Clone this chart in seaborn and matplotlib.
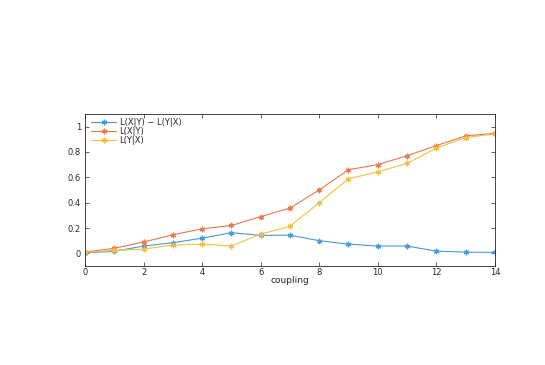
import numpy as np
import pandas as pd
import matplotlib
matplotlib.use("Agg")
import matplotlib.pyplot as plt
import seaborn as sns

coupling = list(range(15))
diff = [0.005, 0.016, 0.058, 0.084, 0.12, 0.163, 0.142, 0.144, 0.10, 0.073, 0.058, 0.058, 0.018, 0.01, 0.008]
lxy = [0.01, 0.04, 0.09, 0.147, 0.194, 0.22, 0.29, 0.357, 0.50, 0.66, 0.70, 0.77, 0.85, 0.926, 0.947]
lyx = [0.008, 0.024, 0.034, 0.066, 0.073, 0.058, 0.152, 0.213, 0.40, 0.588, 0.643, 0.71, 0.83, 0.913, 0.942]
names = ["L(X|Y) \u2212 L(Y|X)", "L(X|Y)", "L(Y|X)"]
colors = ["#4a9ad4", "#e8784e", "#f2c040"]

df = pd.concat([
    pd.DataFrame({"coupling": coupling, "value": v, "series": n})
    for v, n in zip([diff, lxy, lyx], names)
])

sns.set_style("ticks")
plt.rcParams['font.family'] = ['DejaVu Sans']

fig = plt.figure(figsize=(5.45, 3.65), dpi=100)
ax = fig.add_axes([0.156, 0.271, 0.752, 0.417])
sns.lineplot(data=df, x="coupling", y="value", hue="series", palette=colors,
             hue_order=names, marker=(6, 2, 0), markersize=4, markeredgewidth=0.9,
             linewidth=0.8, ax=ax, legend=True)
for ln in ax.lines:
    ln.set_markeredgecolor(ln.get_color())
    ln.set_markerfacecolor(ln.get_color())
ax.set_xlim(0, 14)
ax.set_ylim(-0.1, 1.1)
ax.set_xticks(range(0, 15, 2))
ax.set_yticks([0, 0.2, 0.4, 0.6, 0.8, 1])
ax.set_yticklabels(["0", "0.2", "0.4", "0.6", "0.8", "1"])
ax.set_xlabel("coupling", fontsize=6.5, labelpad=-1)
ax.set_ylabel("")
ax.tick_params(direction="in", length=3, width=0.5, labelsize=6, top=True, right=True)
ax.tick_params(axis="x", pad=1.5)
ax.tick_params(axis="y", pad=3)
for s in ax.spines.values():
    s.set_linewidth(0.6)
    s.set_visible(True)
leg = ax.legend(loc="upper left", frameon=False, fontsize=6, handlelength=3.0,
                borderaxespad=0.1, labelspacing=0.0, handletextpad=0.4,
                bbox_to_anchor=(0.005, 1.0))
for h in leg.legend_handles:
    h.set_markeredgecolor(h.get_color())
    h.set_markerfacecolor(h.get_color())
fig.savefig("out.png", dpi=100)
